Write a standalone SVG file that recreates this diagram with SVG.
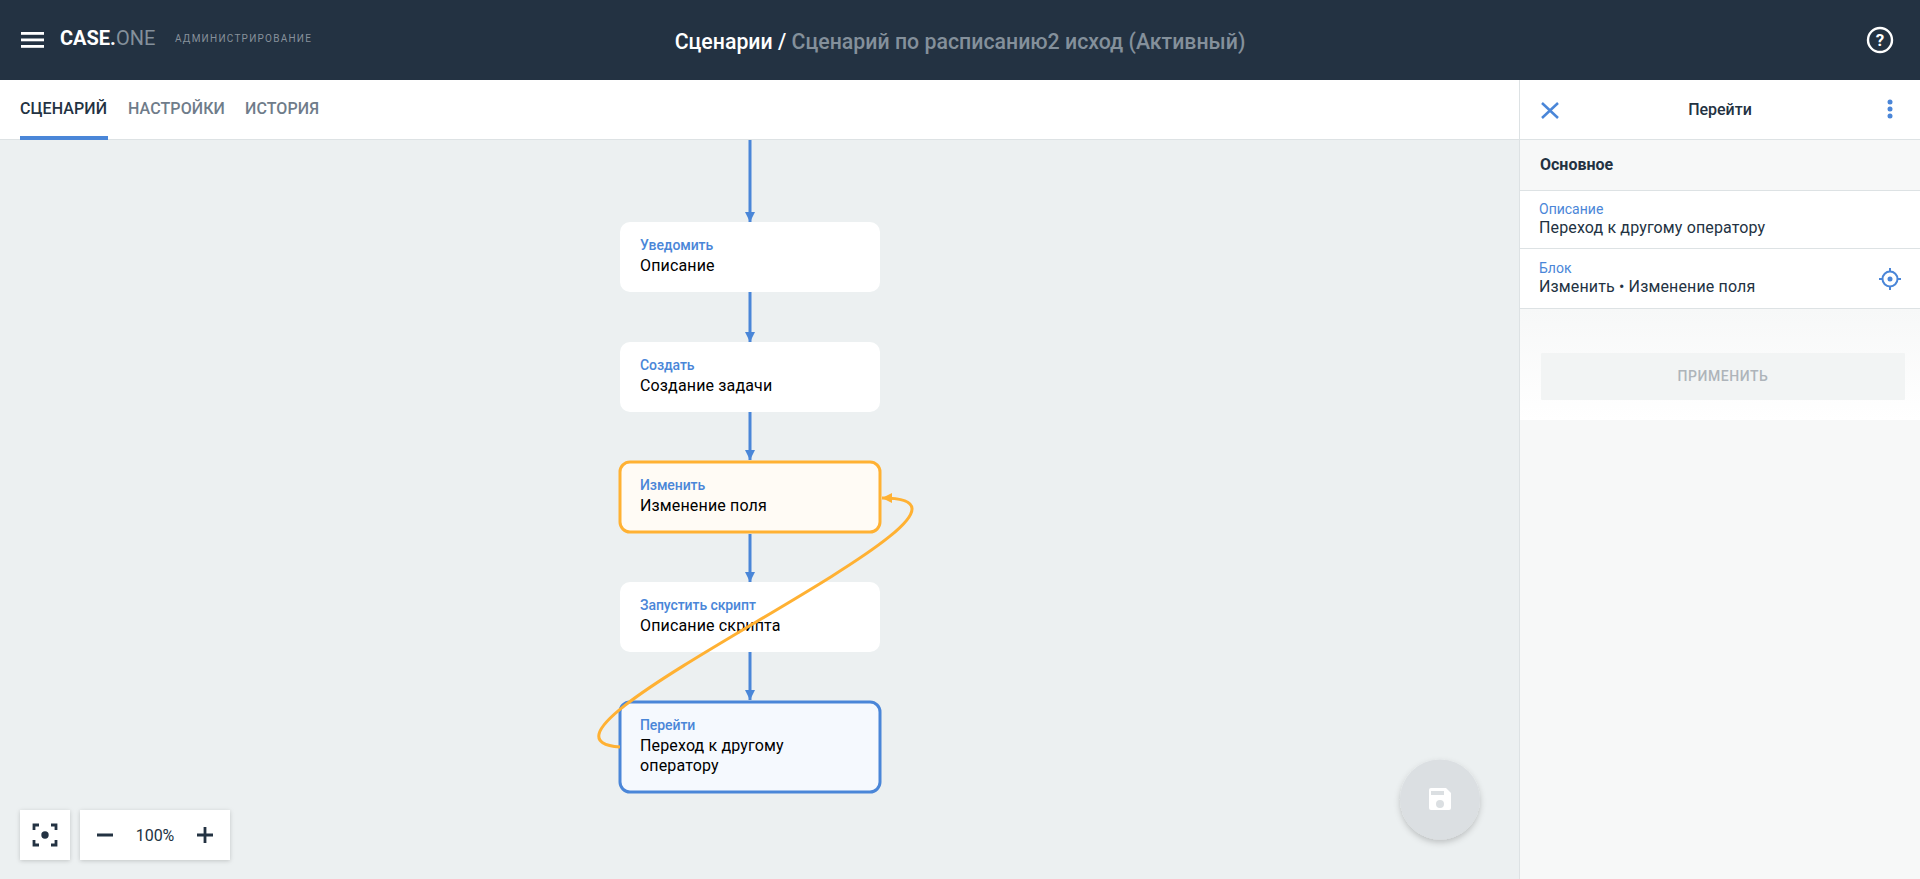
<svg xmlns="http://www.w3.org/2000/svg" width="1920" height="879" viewBox="0 0 1920 879">
<defs>
<style>
text{font-family:Roboto,"Noto Sans",sans-serif}
.nt{font-size:14px;font-weight:500;fill:#4a86d8;letter-spacing:-.08px}
.nd{font-size:16px;fill:#000;letter-spacing:.15px}
.node{fill:#fff}
.conn{fill:none;stroke:#4a86d8;stroke-width:3}
.tab{font-size:16px;font-weight:500;fill:#6f7c8a;letter-spacing:.1px}
.pl{font-size:14px;fill:#4a86d8}
.pv{font-size:16px;fill:#233242;letter-spacing:.14px}
.rule{fill:#dde2e4}
.ico{fill:none;stroke:#233242;stroke-width:2.8}
</style>
<marker id="ab" markerUnits="userSpaceOnUse" markerWidth="10" markerHeight="10" refX="10" refY="5" orient="auto"><path d="M0 0L10 5L0 10z" fill="#4a86d8"/></marker>
<marker id="ao" markerUnits="userSpaceOnUse" markerWidth="10" markerHeight="10" refX="10" refY="5" orient="auto"><path d="M0 0L10 5L0 10z" fill="#ffb133"/></marker>
<filter id="sh" x="-30%" y="-30%" width="160%" height="170%"><feDropShadow dx="0" dy="1" stdDeviation="2" flood-color="#000" flood-opacity=".18"/></filter>
<filter id="fs" x="-30%" y="-30%" width="160%" height="170%"><feDropShadow dx="0" dy="3" stdDeviation="3" flood-color="#000" flood-opacity=".2"/></filter>
<linearGradient id="pg" x1="0" y1="0" x2="0" y2="1"><stop offset="0" stop-color="#f7f8f8"/><stop offset="1" stop-color="#fff"/></linearGradient>
</defs>
<rect width="1920" height="879" fill="#ecf0f1"/>
<g id="header">
<rect width="1920" height="80" fill="#233242"/>
<g fill="#fff"><rect x="21" y="32" width="23" height="2.8"/><rect x="21" y="38.5" width="23" height="2.8"/><rect x="21" y="45" width="23" height="2.8"/></g>
<text x="60" y="45" font-size="20"><tspan font-weight="700" fill="#fff">CASE.</tspan><tspan fill="#84909b">ONE</tspan></text>
<text x="175" y="42" font-size="10" letter-spacing="1.25" fill="#87919b">АДМИНИСТРИРОВАНИЕ</text>
<text x="960" y="48.5" font-size="21.3" text-anchor="middle" font-weight="500"><tspan fill="#fff">Сценарии / </tspan><tspan fill="#84909b">Сценарий по расписанию2 исход (Активный)</tspan></text>
<circle cx="1880" cy="40" r="12" fill="none" stroke="#fff" stroke-width="2.4"/>
<text x="1880" y="46" font-size="17" font-weight="700" fill="#fff" text-anchor="middle">?</text>
</g>
<g id="tabs">
<rect y="80" width="1520" height="59" fill="#fff"/>
<rect y="139" width="1520" height="1" fill="#dde2e4"/>
<rect x="20" y="136" width="88" height="4" fill="#4a86d8"/>
<text class="tab" x="20" y="114" style="fill:#233242">СЦЕНАРИЙ</text>
<text class="tab" x="128" y="114">НАСТРОЙКИ</text>
<text class="tab" x="245" y="114">ИСТОРИЯ</text>
</g>
<g id="node-notify"><rect class="node" x="620" y="222" width="260" height="70" rx="10"/><text class="nt" x="640" y="250">Уведомить</text><text class="nd" x="640" y="271">Описание</text></g>
<g id="node-create"><rect class="node" x="620" y="342" width="260" height="70" rx="10"/><text class="nt" x="640" y="370">Создать</text><text class="nd" x="640" y="391">Создание задачи</text></g>
<g id="node-change"><rect x="620" y="462" width="260" height="70" rx="10" fill="#fffbf5" stroke="#ffb133" stroke-width="3"/><text class="nt" x="640" y="490">Изменить</text><text class="nd" x="640" y="511">Изменение поля</text></g>
<g id="node-script"><rect class="node" x="620" y="582" width="260" height="70" rx="10"/><text class="nt" x="640" y="610">Запустить скрипт</text><text class="nd" x="640" y="631">Описание скрипта</text></g>
<g id="node-goto"><rect x="620" y="702" width="260" height="90" rx="10" fill="#f5f9fe" stroke="#4a86d8" stroke-width="3"/><text class="nt" x="640" y="730">Перейти</text><text class="nd" x="640" y="751">Переход к другому</text><text class="nd" x="640" y="771">оператору</text></g>
<g id="connectors">
<path class="conn" marker-end="url(#ab)" d="M750 140V222"/>
<path class="conn" marker-end="url(#ab)" d="M750 292V342"/>
<path class="conn" marker-end="url(#ab)" d="M750 412V460"/>
<path class="conn" marker-end="url(#ab)" d="M750 534V582"/>
<path class="conn" marker-end="url(#ab)" d="M750 652V700"/>
<path class="conn" style="stroke:#ffb133" marker-end="url(#ao)" d="M620 747C485 737 1045 498 882 498"/>
</g>
<g id="panel">
<rect x="1520" y="80" width="400" height="799" fill="#f7f8f8"/>
<rect x="1519" y="80" width="1" height="799" fill="#dde2e4"/>
<rect x="1520" y="80" width="400" height="59" fill="#fff"/>
<rect class="rule" x="1520" y="139" width="400" height="1"/>
<path d="M1542 103L1558 118M1558 103L1542 118" stroke="#4a86d8" stroke-width="2.5" fill="none"/>
<text x="1720" y="115" font-size="16" font-weight="500" fill="#233242" text-anchor="middle">Перейти</text>
<g fill="#4a86d8"><circle cx="1890" cy="102" r="2.5"/><circle cx="1890" cy="109" r="2.5"/><circle cx="1890" cy="116" r="2.5"/></g>
<text x="1540" y="170" font-size="16" font-weight="700" fill="#233242">Основное</text>
<rect class="rule" x="1520" y="190" width="400" height="1"/>
<rect x="1520" y="191" width="400" height="57" fill="#fff"/>
<text class="pl" x="1539" y="214">Описание</text>
<text class="pv" x="1539" y="233">Переход к другому оператору</text>
<rect class="rule" x="1520" y="248" width="400" height="1"/>
<rect x="1520" y="249" width="400" height="59" fill="#fff"/>
<text class="pl" x="1539" y="273">Блок</text>
<text class="pv" x="1539" y="292">Изменить • Изменение поля</text>
<circle cx="1890" cy="279" r="7.5" fill="none" stroke="#4a86d8" stroke-width="2"/>
<circle cx="1890" cy="279" r="2.5" fill="#4a86d8"/>
<path d="M1890 268V272M1890 286V290M1879 279H1883M1897 279H1901" stroke="#4a86d8" stroke-width="2"/>
<rect class="rule" x="1520" y="308" width="400" height="1"/>
<rect x="1520" y="309" width="400" height="111" fill="url(#pg)"/>
<rect x="1541" y="353" width="364" height="47" rx="1" fill="#f2f4f4"/>
<text x="1723" y="381" font-size="14" font-weight="500" letter-spacing=".55" fill="#aeb4ba" text-anchor="middle">ПРИМЕНИТЬ</text>
</g>
<g id="zoom-controls">
<rect x="20" y="810" width="50" height="50" fill="#fff" filter="url(#sh)"/>
<path class="ico" d="M34 830V825H39M51 825H56V830M56 840V845H51M39 845H34V840"/>
<circle cx="45" cy="835" r="3.7" fill="#233242"/>
<rect x="80" y="810" width="150" height="50" fill="#fff" filter="url(#sh)"/>
<path class="ico" d="M97 835H113M197 835H213M205 827V843"/>
<text x="155" y="840.5" font-size="16" fill="#233242" text-anchor="middle">100%</text>
</g>
<g id="save-button">
<circle cx="1440" cy="799.5" r="40" fill="#dbdfe2" filter="url(#fs)"/>
<path d="M1431 788H1446L1451 793V808a2 2 0 0 1-2 2H1431a2 2 0 0 1-2-2V790a2 2 0 0 1 2-2z" fill="#fff"/>
<rect x="1431" y="791" width="13" height="4" fill="#dbdfe2"/>
<circle cx="1440" cy="804" r="4" fill="#dbdfe2"/>
</g>
</svg>
